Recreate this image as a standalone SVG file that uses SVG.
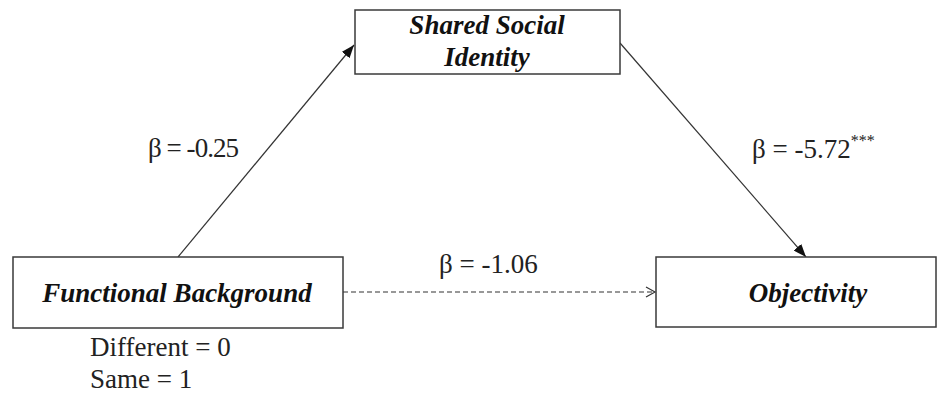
<svg xmlns="http://www.w3.org/2000/svg" width="948" height="393" viewBox="0 0 948 393">
<style>
.box{fill:#fff;stroke:#3a3a3a;stroke-width:1.5}
.node{font-family:'Liberation Serif','Times New Roman',serif;font-weight:bold;font-style:italic;font-size:27px;fill:#111;text-anchor:middle}
.lbl{font-family:'Liberation Serif','Times New Roman',serif;font-size:27px;fill:#222}
.sup{font-size:16px}
.edge{stroke:#333;stroke-width:1.2;fill:none}
.dash{stroke:#333;stroke-width:1.2;fill:none;stroke-dasharray:5 3}
</style>
<defs>
<marker id="filled" markerWidth="14" markerHeight="10" refX="13" refY="5" orient="auto" markerUnits="userSpaceOnUse">
<path d="M0,0 L13,5 L0,10 Z" fill="#111"/>
</marker>
<marker id="open" markerWidth="12" markerHeight="12" refX="10" refY="6" orient="auto" markerUnits="userSpaceOnUse">
<path d="M1,1 L10,6 L1,11" fill="none" stroke="#333" stroke-width="1.2"/>
</marker>
</defs>
<rect width="948" height="393" fill="#fff"/>
<g id="connectors">
<line class="edge" x1="178" y1="257" x2="354" y2="45" marker-end="url(#filled)"/>
<line class="edge" x1="620" y1="43" x2="806" y2="257" marker-end="url(#filled)"/>
<line class="dash" x1="343" y1="292" x2="655" y2="292" marker-end="url(#open)"/>
<text class="lbl" x="148" y="157" textLength="91" lengthAdjust="spacing">β = -0.25</text>
<text class="lbl" x="752" y="158">β = -5.72<tspan class="sup" dy="-12">***</tspan></text>
<text class="lbl" x="439" y="273">β = -1.06</text>
</g>
<g id="shared">
<rect class="box" x="355" y="10" width="265" height="64"/>
<text class="node" x="487" y="34">Shared Social</text>
<text class="node" x="487" y="66">Identity</text>
</g>
<g id="functional">
<rect class="box" x="13" y="257" width="330" height="71"/>
<text class="node" x="177" y="302">Functional Background</text>
<text class="lbl" x="90" y="356">Different = 0</text>
<text class="lbl" x="90" y="388">Same = 1</text>
</g>
<g id="objectivity">
<rect class="box" x="656" y="257" width="280" height="70"/>
<text class="node" x="808" y="302">Objectivity</text>
</g>
</svg>
